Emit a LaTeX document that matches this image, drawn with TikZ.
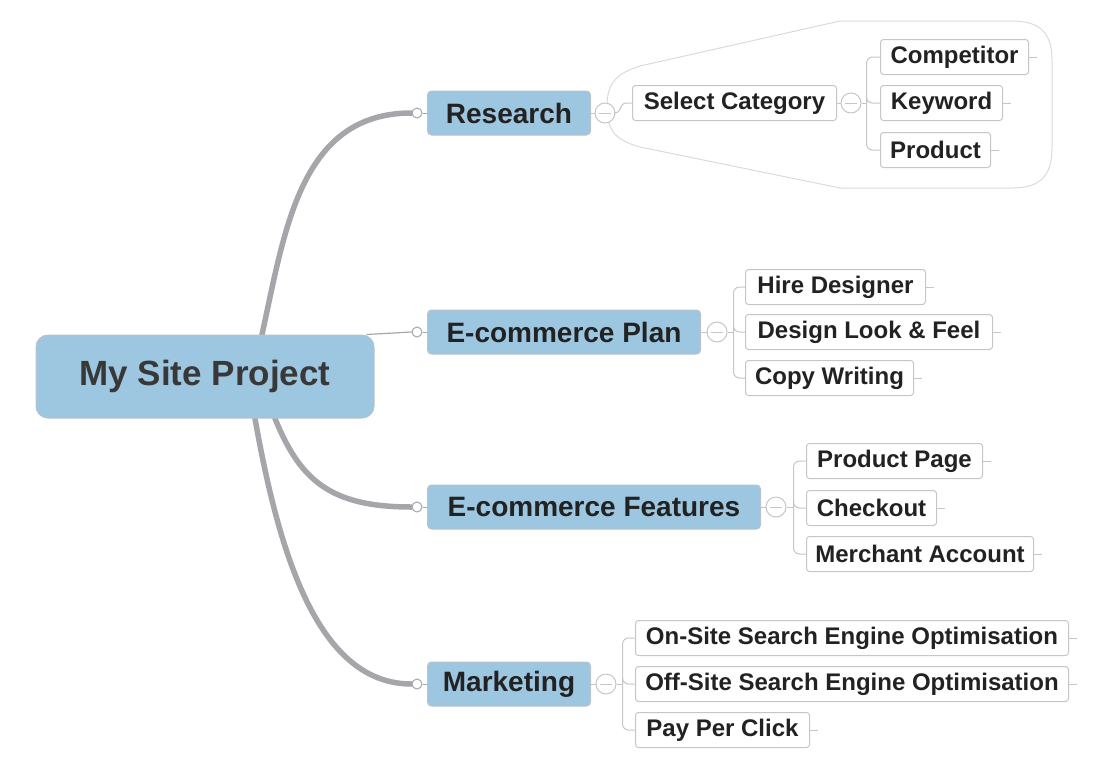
\documentclass[tikz,border=0pt]{standalone}
\usepackage{fontspec}
\setmainfont{Liberation Sans}
\usetikzlibrary{positioning, backgrounds}
\definecolor{topicblue}{HTML}{9DC6E1}
\definecolor{boxline}{HTML}{B9C3CB}
\definecolor{linkgray}{HTML}{A6A6AA}
\definecolor{thingray}{HTML}{C6C6C6}
\definecolor{zonegray}{HTML}{DADADA}
\definecolor{inkdark}{HTML}{222222}

\tikzset{
  root/.style={draw=boxline, fill=topicblue, rounded corners=12pt, line width=1pt,
    minimum width=338pt, minimum height=83pt, text=black!78,
    font=\fontsize{35}{40}\selectfont\bfseries},
  topic/.style={draw=boxline, fill=topicblue, rounded corners=4pt, line width=1pt,
    minimum height=44pt, inner xsep=4pt, anchor=west, text=inkdark,
    font=\fontsize{28}{32}\selectfont\bfseries},
  leaf/.style={draw=thingray, fill=white, rounded corners=3pt, line width=1pt,
    minimum height=35pt, inner xsep=5pt, anchor=west, text=inkdark,
    font=\fontsize{24}{28}\selectfont\bfseries},
  knob/.style={circle, draw=linkgray, fill=white, line width=1pt,
    minimum size=10pt, inner sep=0pt},
  fold/.style={circle, draw=thingray, fill=white, line width=1pt,
    minimum size=20pt, inner sep=0pt,
    path picture={\draw[thingray, line width=1pt]
      ([xshift=-6pt]path picture bounding box.center) --
      ([xshift=6pt]path picture bounding box.center);}},
  link/.style={draw=thingray, line width=1pt, rounded corners=6pt},
  trunk/.style={draw=linkgray, line width=5.5pt, line cap=round}
}

\begin{document}
\begin{tikzpicture}[x=1pt,y=-1pt]
\useasboundingbox (0,0) rectangle (1103,769);

% main topic
\node[root] (site) at (205,376.5) {My Site Project};

% branches
\node[topic, minimum width=163pt] (research) at (427,113) {Research};
\node[topic, minimum width=273pt] (plan) at (427,332) {E-commerce Plan};
\node[topic, minimum width=333pt] (features) at (427,507) {E-commerce Features};
\node[topic, minimum width=163pt] (marketing) at (427,684) {Marketing};

\node[knob] (kres) at (417,113) {};
\node[knob] (kplan) at (417,332) {};
\node[knob] (kfeat) at (417,507) {};
\node[knob] (kmark) at (417,684) {};

\node[fold] (fres) at (605,113) {};
\node[fold] (fplan) at (717,332) {};
\node[fold] (ffeat) at (776,507) {};
\node[fold] (fmark) at (606,684) {};

% research
\node[leaf, minimum width=204pt] (select) at (632,103) {Select Category};
\node[fold] (fsel) at (851,103) {};
\node[leaf, minimum width=148pt] (competitor) at (880,57) {Competitor};
\node[leaf, minimum width=122pt] (keyword) at (880,103) {Keyword};
\node[leaf, minimum width=110pt] (product) at (880,150) {Product};

% plan
\node[leaf, minimum width=180pt] (hire) at (745,287) {Hire Designer};
\node[leaf, minimum width=247pt] (look) at (745,332) {Design Look \& Feel};
\node[leaf, minimum width=168pt] (copy) at (745,378) {Copy Writing};

% features
\node[leaf, minimum width=176pt] (page) at (806,461) {Product Page};
\node[leaf, minimum width=130pt] (checkout) at (806,508) {Checkout};
\node[leaf, minimum width=227pt] (merchant) at (806,554) {Merchant Account};

% marketing
\node[leaf, minimum width=433pt] (onsite) at (635,638) {On-Site Search Engine Optimisation};
\node[leaf, minimum width=433pt] (offsite) at (635,684) {Off-Site Search Engine Optimisation};
\node[leaf, minimum width=174pt] (ppc) at (635,730) {Pay Per Click};

\begin{scope}[on background layer]
% boundary round research
\path[draw][draw=zonegray, line width=1pt]
  (640,66) -- (840,21) -- (1012,21) .. controls (1040,21) and (1052,33) .. (1052,60)
  -- (1052,148) .. controls (1052,176) and (1040,188) .. (1012,188) -- (840,188)
  -- (640,147) .. controls (615,140) and (607,130) .. (607,108)
  .. controls (607,90) and (610,75) .. (640,66);

\draw[trunk] ([xshift=57pt]site.north) .. controls (285,230) and (300,113) .. (kres.west);
\draw[trunk] ([xshift=70pt]site.south) .. controls (300,480) and (330,507) .. (kfeat.west);
\draw[trunk] ([xshift=50pt]site.south) .. controls (280,560) and (320,684) .. (kmark.west);
\draw[draw=linkgray, line width=1.2pt] ([xshift=-8pt]site.north east) -- (kplan.west);
\end{scope}

\foreach \k/\t in {kres/research, kplan/plan, kfeat/features, kmark/marketing}
  \draw[link, draw=linkgray] (\k) -- (\t);
\foreach \t/\f in {research/fres, plan/fplan, features/ffeat, marketing/fmark, select/fsel}
  \draw[link] (\t) -- (\f);

\draw[link] (fres.east) -- ++(5pt,0) |- (select.west);
\draw[link] (fsel.east) -- ++(5pt,0);
\foreach \t in {competitor, keyword, product}
  \draw[link] ([xshift=5pt]fsel.east) |- (\t.west);
\draw[link] (fplan.east) -- ++(6pt,0);
\foreach \t in {hire, look, copy}
  \draw[link] ([xshift=6pt]fplan.east) |- (\t.west);
\draw[link] (ffeat.east) -- ++(7pt,0);
\foreach \t in {page, checkout, merchant}
  \draw[link] ([xshift=7pt]ffeat.east) |- (\t.west);
\draw[link] (fmark.east) -- ++(6pt,0);
\foreach \t in {onsite, offsite, ppc}
  \draw[link] ([xshift=6pt]fmark.east) |- (\t.west);

% stubs
\foreach \t in {competitor, keyword, product, hire, look, copy,
    page, checkout, merchant, onsite, offsite, ppc}
  \draw[link] (\t.east) -- ++(8pt,0);
\end{tikzpicture}
\end{document}
